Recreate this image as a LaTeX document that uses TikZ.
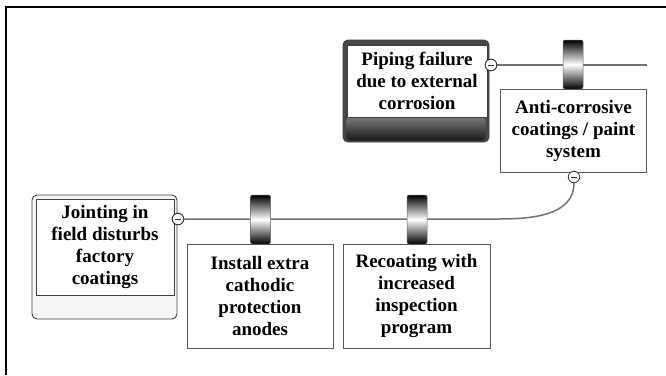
\documentclass[tikz,border=0pt]{standalone}
\usepackage{fontspec}
\setmainfont{Liberation Serif}
\begin{document}
\begin{tikzpicture}[x=1pt,y=-1pt,
    boxtext/.style={align=center,font=\bfseries\fontsize{19}{22}\selectfont,inner sep=0pt},
    ctrlbox/.style={boxtext,draw=black!65,line width=0.9pt,fill=white,minimum width=146pt,minimum height=83pt},
    hazout/.style={draw=black!75,line width=0.9pt,rounded corners=5pt},
    hazin/.style={boxtext,draw=black!75,line width=0.9pt,fill=white},
    barrier/.style={draw=black!60,line width=0.5pt,rounded corners=2pt,minimum width=20pt,minimum height=49pt,top color=black,bottom color=black,middle color=white,inner sep=0pt},
    minus/.style={circle,draw=black!80,fill=white,line width=0.8pt,minimum size=11.5pt,inner sep=0pt,
        path picture={\draw[line width=0.9pt] ([xshift=-3pt]path picture bounding box.center) -- ([xshift=3pt]path picture bounding box.center);}},
    wire/.style={draw=black!55,line width=1.5pt}]
    \useasboundingbox (0,0) rectangle (666,375);
    % frame
    \draw[line width=2pt] (6,375) -- (6,7) -- (666,7);
    % hazards
    \node[hazout,fill=black!72,minimum width=146pt,minimum height=102pt] (pipebg) at (416,91) {};
    \shade[top color=black!52,bottom color=black!90,rounded corners=3pt] (346.5,117) rectangle (485.5,140.5);
    \node[hazin,minimum width=140pt,minimum height=72pt] (pipe) at (417,81) {Piping failure\\due to external\\corrosion};
    \node[hazout,fill=black!4,minimum width=145pt,minimum height=124pt] (jointbg) at (104.5,257) {};
    \node[hazin,minimum width=138pt,minimum height=96pt] (joint) at (105,247) {Jointing in\\field disturbs\\factory\\coatings};
    % wires
    \node[minus] (pipeminus) at (491,65) {};
    \node[minus] (jointminus) at (178,219) {};
    \coordinate (topend) at (647,65);
    \coordinate (bend) at (498,219);
    \draw[wire] (pipeminus) -- (topend);
    % controls
    \node[ctrlbox] (anti) at (573.5,130.5) {Anti-corrosive\\coatings / paint\\system};
    \node[ctrlbox,minimum height=104pt] (anodes) at (260,296) {Install extra\\cathodic\\protection\\anodes};
    \node[ctrlbox,minimum width=147pt,minimum height=104pt] (recoat) at (416.5,296) {Recoating with\\increased\\inspection\\program};
    \node[minus] (antiminus) at (574,177) {};
    \draw[wire] (jointminus) -- (bend) to[out=0,in=-90] (antiminus);
    \node[minus] at (jointminus) {};
    \node[minus] at (pipeminus) {};
    % barriers
    \node[barrier] (antibar) at (573,64.5) {};
    \node[barrier] (anodesbar) at (260.5,219.5) {};
    \node[barrier] (recoatbar) at (417,219.5) {};
\end{tikzpicture}
\end{document}
